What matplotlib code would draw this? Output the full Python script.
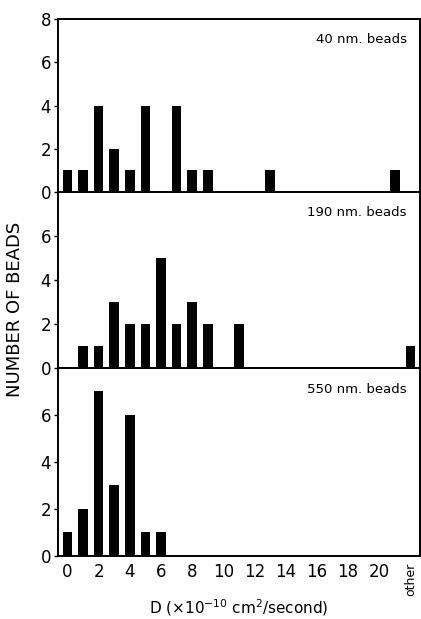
import matplotlib
matplotlib.use("Agg")
import matplotlib.pyplot as plt

# D bins (x 10^-10 cm^2/s), position 22 is the "other" bin
pos_40 = [0, 1, 2, 3, 4, 5, 7, 8, 9, 13, 21]
cnt_40 = [1, 1, 4, 2, 1, 4, 4, 1, 1, 1, 1]

pos_190 = [1, 2, 3, 4, 5, 6, 7, 8, 9, 11, 22]
cnt_190 = [1, 1, 3, 2, 2, 5, 2, 3, 2, 2, 1]

pos_550 = [0, 1, 2, 3, 4, 5, 6]
cnt_550 = [1, 2, 7, 3, 6, 1, 1]

labels = ["40 nm. beads", "190 nm. beads", "550 nm. beads"]
xticks = [0, 2, 4, 6, 8, 10, 12, 14, 16, 18, 20]

plt.rcParams['font.family'] = ['DejaVu Sans']

fig, axes = plt.subplots(3, 1, figsize=(4.21, 6.19), dpi=100, sharex=True,
                         gridspec_kw={'height_ratios': [173, 176, 188]})
fig.subplots_adjust(left=0.138, right=0.997, top=0.969, bottom=0.102, hspace=0)

data = [(pos_40, cnt_40), (pos_190, cnt_190), (pos_550, cnt_550)]
for i, (ax, (p, c)) in enumerate(zip(axes, data)):
    ax.bar(p, c, width=0.62, color='black')
    ax.set_ylim(0, 8)
    ax.set_xlim(-0.6, 22.6)
    if i == 0:
        ax.set_yticks([0, 2, 4, 6, 8])
    else:
        ax.set_yticks([0, 2, 4, 6])
    ax.tick_params(axis='y', direction='out', length=3, width=1, labelsize=12, pad=2)
    ax.tick_params(axis='x', length=0, labelsize=12, pad=5)
    for s in ax.spines.values():
        s.set_linewidth(1.4)
    ax.text(0.964, 0.885, labels[i], transform=ax.transAxes, ha='right',
            va='center', fontsize=9.5)

ax = axes[-1]
ax.set_xticks(xticks + [22])
ax.set_xticklabels([str(t) for t in xticks] + ["other"])
ax.get_xticklabels()[-1].set_rotation(90)
ax.get_xticklabels()[-1].set_fontsize(9)
ax.set_xlabel(r"D ($\times$10$^{-10}$ cm$^{2}$/second)", fontsize=11, labelpad=1)

fig.text(0.035, 0.5, "NUMBER OF BEADS", rotation=90, ha='center', va='center',
         fontsize=13)

fig.savefig("out.png", dpi=100)
